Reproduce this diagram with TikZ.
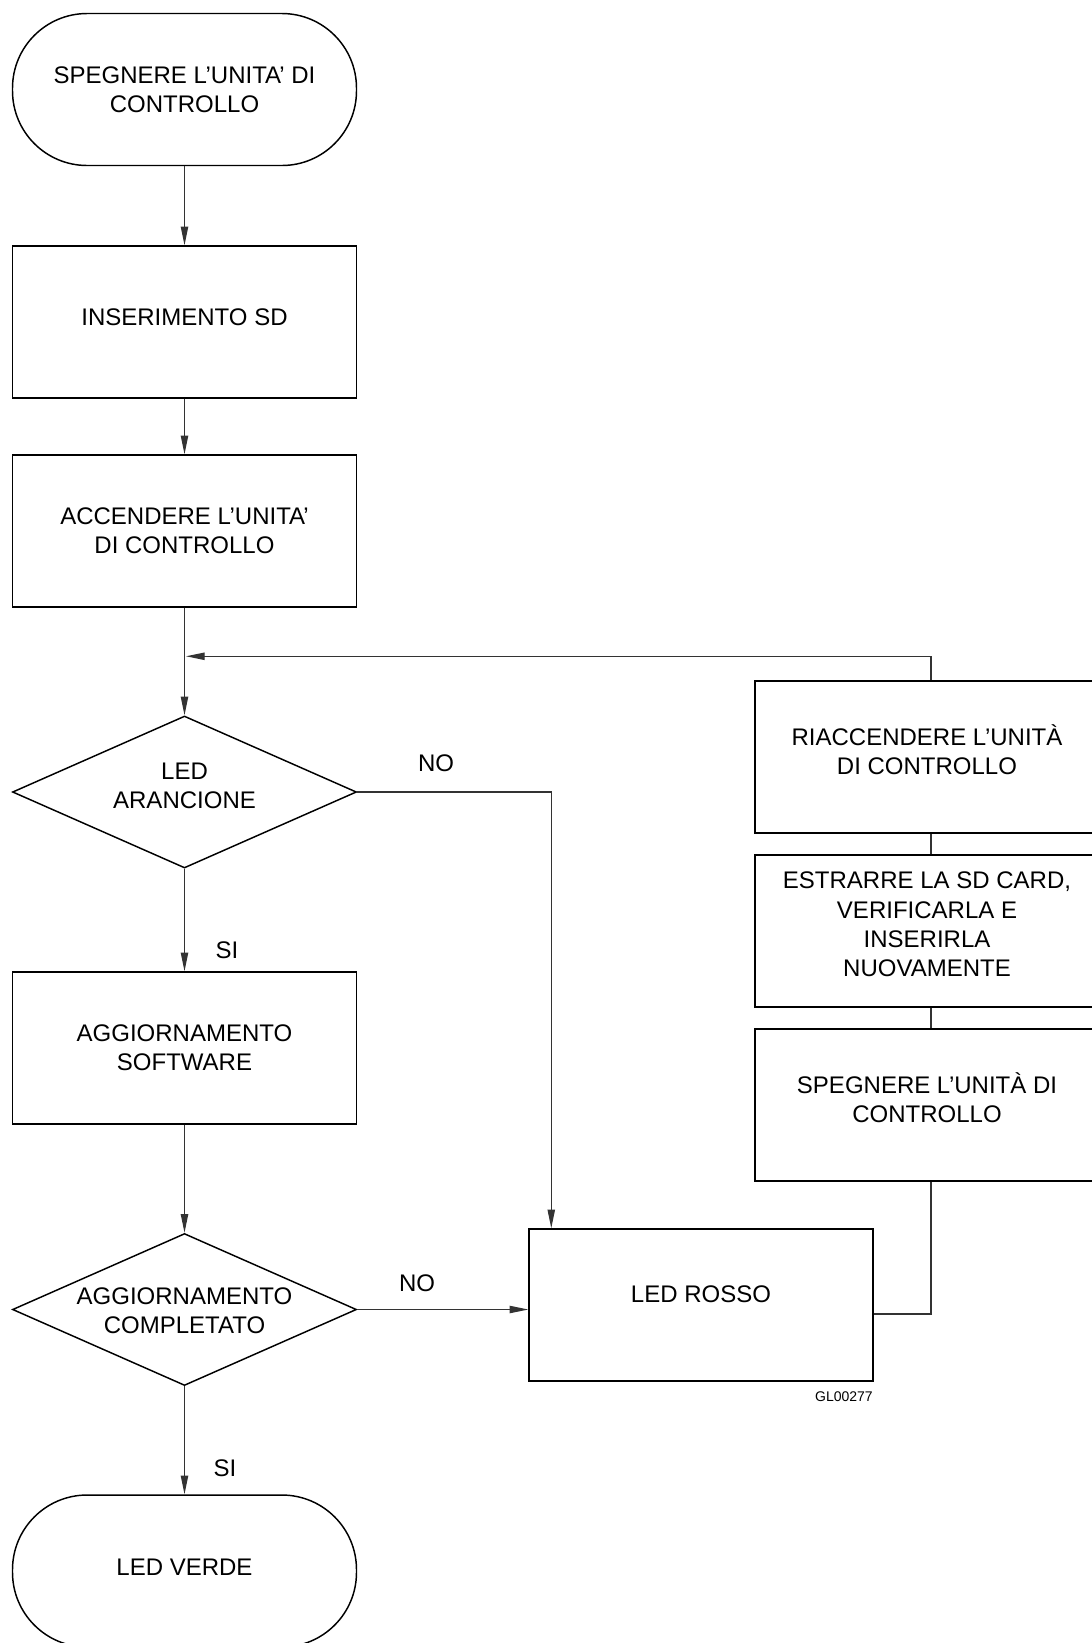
\documentclass[tikz,border=0pt]{standalone}
\usepackage{fontspec}
\setmainfont{Liberation Sans}
\usetikzlibrary{shapes.geometric,arrows.meta,calc}

\tikzset{
  txt/.style={font=\fontsize{18}{22}\selectfont, align=center, inner sep=0pt},
  proc/.style={draw=black, line width=1.1pt, rectangle, minimum width=258pt,
               minimum height=114pt, inner sep=0pt, txt},
  term/.style={proc, rounded corners=56pt},
  dec/.style={draw=black, line width=1.1pt, diamond, minimum width=258pt,
              minimum height=114pt, inner sep=0pt},
  conn/.style={draw=black!80, line width=0.9pt},
  arr/.style={conn, -{Triangle[length=14pt,width=5.5pt]}},
  lbl/.style={txt},
  lift/.style={text depth=#1}
}

\begin{document}
\begin{tikzpicture}[x=0.75pt, y=-0.75pt]
  \fill[white] (0,0) rectangle (1092,1643);
  \useasboundingbox (0,0) rectangle (1092,1643);
  \clip (0,0) rectangle (1092,1643);

  % main column
  \node[term] (t1) at (184.5, 89.5) {SPEGNERE L’UNITA’ DI\\CONTROLLO};
  \node[proc, lift=8pt] (b1) at (184.5, 322) {INSERIMENTO SD};
  \node[proc] (b2) at (184.5, 531) {ACCENDERE L’UNITA’\\DI CONTROLLO};
  \node[dec]  (d1) at (184.5, 792) {};
  \node[txt]  (d1t) at (184.5, 786) {LED\\ARANCIONE};
  \node[proc] (b3) at (184.5, 1048) {AGGIORNAMENTO\\SOFTWARE};
  \node[dec]  (d2) at (184.5, 1309.5) {};
  \node[txt]  (d2t) at (184.5, 1311) {AGGIORNAMENTO\\COMPLETATO};
  \node[term, lift=5pt] (t2) at (184.5, 1571) {LED VERDE};

  % error branch
  \node[proc, lift=17pt] (rosso) at (701, 1305) {LED ROSSO};
  \node[proc, lift=11pt] (r1) at (927, 757) {RIACCENDERE L’UNITÀ\\DI CONTROLLO};
  \node[proc, lift=10pt] (r2) at (927, 931) {ESTRARRE LA SD CARD,\\VERIFICARLA E\\INSERIRLA\\NUOVAMENTE};
  \node[proc, lift=11pt] (r3) at (927, 1105) {SPEGNERE L’UNITÀ DI\\CONTROLLO};

  % main flow
  \draw[arr] (t1.south) -- (b1.north);
  \draw[arr] (b1.south) -- (b2.north);
  \draw[arr] (b2.south) -- (d1.north);
  \draw[arr] (d1.south) -- (b3.north);
  \draw[arr] (b3.south) -- (d2.north);
  \draw[arr] (d2.south) -- (t2.north);

  % NO branches
  \coordinate (rin) at ($(rosso.north west)+(23,0)$);
  \draw[arr] (d1.east) -| (rin);
  \draw[arr] (d2.east) -- (d2.east -| rosso.west);

  % return path, drawn slightly right of the box centres
  \coordinate (r1n) at ($(r1.north)+(4,0)$);
  \coordinate (r1s) at ($(r1.south)+(4,0)$);
  \coordinate (r2n) at ($(r2.north)+(4,0)$);
  \coordinate (r2s) at ($(r2.south)+(4,0)$);
  \coordinate (r3n) at ($(r3.north)+(4,0)$);
  \coordinate (r3s) at ($(r3.south)+(4,0)$);
  \coordinate (rout) at ($(rosso.east)+(0,9)$);
  \draw[conn] (rout) -| (r3s);
  \draw[conn] (r3n) -- (r2s);
  \draw[conn] (r2n) -- (r1s);
  \coordinate (m) at ($(r1n)+(0,-24)$);
  \draw[conn] (r1n) -- (m);
  \draw[arr] (m) -- ($(m -| b2.south)+(1.5,0)$);

  % labels
  \node[lbl] (no1) at (436, 763) {NO};
  \node[lbl] (no2) at (417, 1283) {NO};
  \node[lbl] (si1) at (227, 950) {SI};
  \node[lbl] (si2) at (225, 1468) {SI};
  \node[font=\fontsize{10.5}{12}\selectfont, anchor=east, inner sep=0pt] (gl) at (873, 1397) {GL00277};
\end{tikzpicture}
\end{document}
